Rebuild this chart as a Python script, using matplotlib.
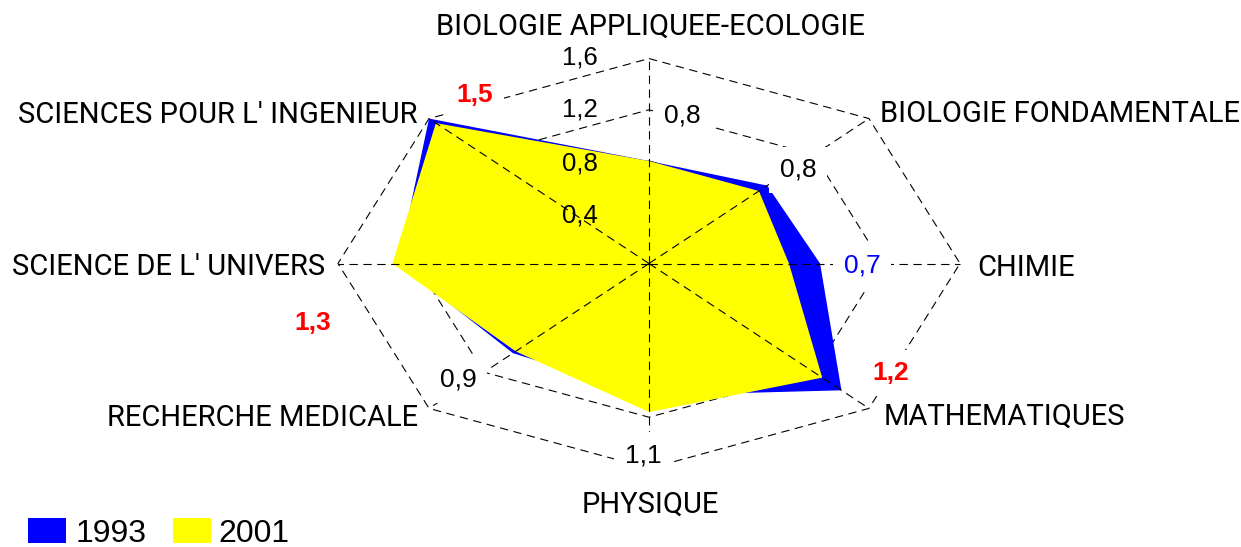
import numpy as np
import matplotlib
matplotlib.use("Agg")
import matplotlib.pyplot as plt
from matplotlib.patches import Rectangle

# ---------------- data ----------------
categories = [
    "BIOLOGIE APPLIQUEE-ECOLOGIE",
    "BIOLOGIE FONDAMENTALE",
    "CHIMIE",
    "MATHEMATIQUES",
    "PHYSIQUE",
    "RECHERCHE MEDICALE",
    "SCIENCE DE L' UNIVERS",
    "SCIENCES POUR L' INGENIEUR",
]
series_names = ["1993", "2001"]
values_1993 = [0.80, 0.86, 0.88, 1.40, 1.03, 0.99, 1.29, 1.60]
values_2001 = [0.80, 0.80, 0.72, 1.26, 1.16, 0.97, 1.32, 1.55]
ratio_labels = ["0,8", "0,8", "0,7", "1,2", "1,1", "0,9", "1,3", "1,5"]
ratio_colors = ["black", "black", "#0000FF", "#FF0000", "black", "black", "#FF0000", "#FF0000"]
ratio_bold = [False, False, False, True, False, False, True, True]
scale_ticks = [0.4, 0.8, 1.2, 1.6]
scale_tick_labels = ["0,4", "0,8", "1,2", "1,6"]
series_colors = ["#0000FF", "#FFFF00"]

# ---------------- layout ----------------
W, H = 1241, 547
CX, CY = 649.0, 263.5          # centre in pixels
UX, UY = 194.4, 128.1          # pixels per value unit (x, y)

fig = plt.figure(figsize=(W / 100, H / 100), dpi=100)
ax = fig.add_axes([0, 0, 1, 1])
ax.set_xlim(-CX / UX, (W - CX) / UX)
ax.set_ylim(-(H - CY) / UY, CY / UY)
ax.axis("off")


def P(xp, yp):
    """pixel position -> data coordinates"""
    return (xp - CX) / UX, (CY - yp) / UY


n = len(categories)
theta = 2 * np.pi * np.arange(n) / n
sx, sy = np.sin(theta), np.cos(theta)

plt.rcParams["lines.scale_dashes"] = False
dash = (0, (6, 4))
rmax = scale_ticks[-1]

# octagonal grid (below fills)
for t in scale_ticks:
    ax.plot(np.append(t * sx, t * sx[0]), np.append(t * sy, t * sy[0]),
            color="black", lw=0.8, linestyle=dash, zorder=1)

# series fills
for vals, col, z in zip([values_1993, values_2001], series_colors, [2, 2.1]):
    v = np.asarray(vals)
    ax.fill(v * sx, v * sy, color=col, lw=0, zorder=z)

# spokes (above fills)
for i in range(n):
    ax.plot([0, rmax * sx[i]], [0, rmax * sy[i]], color="black", lw=0.8,
            linestyle=dash, zorder=3)

NUM = ["Liberation Sans", "Arial", "DejaVu Sans"]
CAT = ["Roboto", "Liberation Sans", "DejaVu Sans"]

# scale labels on the top axis
scale_baselines = [222, 170, 116.7, 65]
for lab, yb in zip(scale_tick_labels, scale_baselines):
    ax.text(*P(580, yb), lab, ha="center", va="baseline", fontsize=18.5,
            family=NUM, color="black", zorder=5)

# category labels
cat_pos = [
    (650, 35, "center"),
    (880, 122, "left"),
    (977, 276, "left"),
    (884, 425, "left"),
    (650, 513, "center"),
    (418, 426, "right"),
    (325, 275, "right"),
    (418, 123, "right"),
]
for lab, (xp, yp, ha) in zip(categories, cat_pos):
    ax.text(*P(xp, yp), lab, ha=ha, va="baseline", fontsize=21, family=CAT,
            color="black", zorder=5)

# ratio labels (white boxes hide the grid behind them)
ratio_pos = [(682, 123), (798, 177), (862, 272), (891, 380),
             (643, 462), (458, 387), (313, 330), (475, 102)]
for lab, col, b, (xp, yp) in zip(ratio_labels, ratio_colors, ratio_bold, ratio_pos):
    ax.text(*P(xp, yp), lab, ha="center", va="baseline", fontsize=19,
            family=NUM, color=col, fontweight="bold" if b else "normal",
            zorder=4,
            bbox=dict(boxstyle="square,pad=0.4", fc="white", ec="none"))

# legend
leg_boxes = [(28, 66), (173, 211)]
leg_text_x = [76, 218]
for name, col, (x0, x1), tx in zip(series_names, series_colors, leg_boxes, leg_text_x):
    ax.add_patch(Rectangle(P(x0, 543.3), (x1 - x0) / UX, 25 / UY,
                           facecolor=col, edgecolor="none", zorder=5,
                           clip_on=False))
    ax.text(*P(tx, 541.7), name, ha="left", va="baseline", fontsize=23,
            family=NUM, color="black", zorder=5)

fig.savefig("out.png", dpi=100)
